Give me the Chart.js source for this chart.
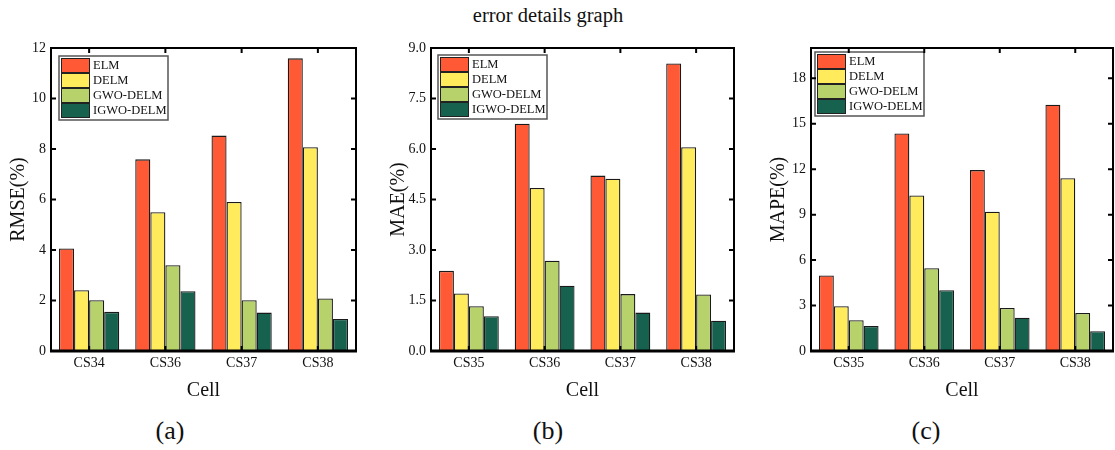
<!DOCTYPE html>
<html>
<head>
<meta charset="utf-8">
<script src="https://cdn.jsdelivr.net/npm/chart.js@4/dist/chart.umd.min.js"></script>
<style>
  html, body { margin: 0; padding: 0; background: #fff; }
  body { width: 1115px; height: 450px; position: relative; overflow: hidden; font-family: "Liberation Serif", "Times New Roman", serif; }
  .txt { position: absolute; color: #111; white-space: nowrap; transform: translate(-50%, -50%); }
  canvas { position: absolute; top: 0; }
</style>
</head>
<body>
<div class="txt" style="left:548px; top:15px; font-size:20.5px;">error details graph</div>
<div class="txt" style="left:170px; top:431px; font-size:26px;">(a)</div>
<div class="txt" style="left:548px; top:431px; font-size:26px;">(b)</div>
<div class="txt" style="left:926px; top:431px; font-size:26px;">(c)</div>
<canvas id="ca" width="360" height="410" style="left:0px"></canvas>
<canvas id="cb" width="358" height="410" style="left:380px"></canvas>
<canvas id="cc" width="355" height="410" style="left:760px"></canvas>
<script>
// ---------- data ----------
const seriesNames = ['ELM', 'DELM', 'GWO-DELM', 'IGWO-DELM'];
const seriesColors = ['#FF5A35', '#FFEB5B', '#B7D26B', '#17614F'];

const cellsA = ['CS34', 'CS36', 'CS37', 'CS38'];
const cellsB = ['CS35', 'CS36', 'CS37', 'CS38'];
const cellsC = ['CS35', 'CS36', 'CS37', 'CS38'];

const rmseELM  = [4.06, 7.59, 8.53, 11.59];
const rmseDELM = [2.41, 5.50, 5.90, 8.07];
const rmseGWO  = [2.01, 3.40, 2.01, 2.08];
const rmseIGWO = [1.55, 2.37, 1.52, 1.27];

const maeELM  = [2.38, 6.75, 5.21, 8.54];
const maeDELM = [1.71, 4.84, 5.12, 6.05];
const maeGWO  = [1.33, 2.68, 1.69, 1.68];
const maeIGWO = [1.03, 1.94, 1.14, 0.90];

const mapeELM  = [4.98, 14.36, 11.94, 16.26];
const mapeDELM = [2.95, 10.27, 9.19, 11.41];
const mapeGWO  = [2.03, 5.46, 2.84, 2.51];
const mapeIGWO = [1.65, 4.01, 2.20, 1.30];

const yTicksA = [0, 2, 4, 6, 8, 10, 12];
const yTicksB = [0, 1.5, 3.0, 4.5, 6.0, 7.5, 9.0];
const yTicksC = [0, 3, 6, 9, 12, 15, 18];

// ---------- plugins ----------
const framePlugin = {
  id: 'frame',
  afterDraw(chart) {
    const ctx = chart.ctx;
    const a = chart.chartArea;
    const ys = chart.scales.y, xs = chart.scales.x;
    ctx.save();
    ctx.strokeStyle = '#000';
    ctx.lineCap = 'butt';
    ctx.lineWidth = 2;
    ctx.beginPath();
    ctx.moveTo(a.left, a.bottom); ctx.lineTo(a.left, a.top);
    ctx.lineTo(a.right, a.top); ctx.lineTo(a.right, a.bottom);
    ctx.stroke();
    ctx.lineWidth = 3;
    ctx.beginPath();
    ctx.moveTo(a.left - 1, a.bottom); ctx.lineTo(a.right + 1, a.bottom);
    ctx.stroke();
    ctx.lineWidth = 2;
    ctx.beginPath();
    ys.ticks.forEach(t => {
      const y = ys.getPixelForValue(t.value);
      ctx.moveTo(a.left, y); ctx.lineTo(a.left + 5, y);
      ctx.moveTo(a.right, y); ctx.lineTo(a.right - 5, y);
    });
    xs.ticks.forEach((t, i) => {
      const x = xs.getPixelForTick(i);
      ctx.moveTo(x, a.bottom); ctx.lineTo(x, a.bottom - 5);
      ctx.moveTo(x, a.top); ctx.lineTo(x, a.top + 5);
    });
    ctx.stroke();
    ctx.restore();
  }
};

const innerLegend = {
  id: 'innerLegend',
  afterDatasetsDraw(chart, args, opts) {
    const ctx = chart.ctx;
    const a = chart.chartArea;
    const bx = a.left + opts.dx, by = a.top + opts.dy;
    const rowH = 15, w = 109, h = 4 * rowH + 4;
    ctx.save();
    ctx.fillStyle = '#fff';
    ctx.fillRect(bx, by, w, h);
    ctx.strokeStyle = '#555';
    ctx.lineWidth = 1.5;
    ctx.strokeRect(bx, by, w, h);
    ctx.font = '12.5px "Liberation Serif", "Times New Roman", serif';
    ctx.textBaseline = 'middle';
    chart.data.datasets.forEach((ds, i) => {
      const sy = by + 2 + i * rowH;
      ctx.fillStyle = ds.backgroundColor;
      ctx.fillRect(bx + 2, sy, 29, rowH);
      ctx.strokeStyle = '#222';
      ctx.lineWidth = 1;
      ctx.strokeRect(bx + 2.5, sy + 0.5, 28, rowH - 1);
      ctx.fillStyle = '#111';
      ctx.fillText(ds.label, bx + 34, sy + rowH / 2 + 0.5);
    });
    ctx.restore();
  }
};

const FONT = '"Liberation Serif", "Times New Roman", serif';

function makeChart(id, cats, values, yMax, yTicks, yTitle, rightPad, legendOff, fmt) {
  const datasets = seriesNames.map((name, i) => ({
    label: name,
    data: values[i],
    backgroundColor: seriesColors[i],
    borderColor: '#1a1a1a',
    borderWidth: 1.3,
    categoryPercentage: 0.79,
    barPercentage: 1.0
  }));
  return new Chart(document.getElementById(id), {
    type: 'bar',
    data: { labels: cats, datasets },
    plugins: [framePlugin, innerLegend],
    options: {
      responsive: false,
      animation: false,
      devicePixelRatio: 1,
      layout: { padding: { top: 48, right: rightPad, left: 0, bottom: 0 } },
      plugins: {
        legend: { display: false },
        tooltip: { enabled: false },
        innerLegend: legendOff
      },
      scales: {
        x: {
          grid: { display: false, drawTicks: false },
          border: { display: false },
          ticks: { color: '#111', font: { family: FONT, size: 14 }, padding: 4 },
          title: { display: true, text: 'Cell', color: '#111', font: { family: FONT, size: 20 }, padding: { top: 0, bottom: 7 } },
          afterFit(s) { s.height = 59; }
        },
        y: {
          min: 0,
          max: yMax,
          grid: { display: false, drawTicks: false },
          border: { display: false },
          ticks: { color: '#111', font: { family: FONT, size: 14 }, padding: 5,
                   callback: v => fmt(v) },
          afterBuildTicks(s) { s.ticks = yTicks.map(v => ({ value: v })); },
          title: { display: true, text: yTitle, color: '#111', font: { family: FONT, size: 20 }, padding: { top: 7, bottom: 0 } },
          afterFit(s) { s.width = 51; }
        }
      }
    }
  });
}

makeChart('ca', cellsA, [rmseELM, rmseDELM, rmseGWO, rmseIGWO], 12, yTicksA, 'RMSE(%)', 4, { dx: 8, dy: 8 }, v => String(v));
makeChart('cb', cellsB, [maeELM, maeDELM, maeGWO, maeIGWO], 9, yTicksB, 'MAE(%)', 4, { dx: 7, dy: 7 }, v => v.toFixed(1));
makeChart('cc', cellsC, [mapeELM, mapeDELM, mapeGWO, mapeIGWO], 20, yTicksC, 'MAPE(%)', 2, { dx: 4, dy: 4 }, v => String(v));
</script>
</body>
</html>
